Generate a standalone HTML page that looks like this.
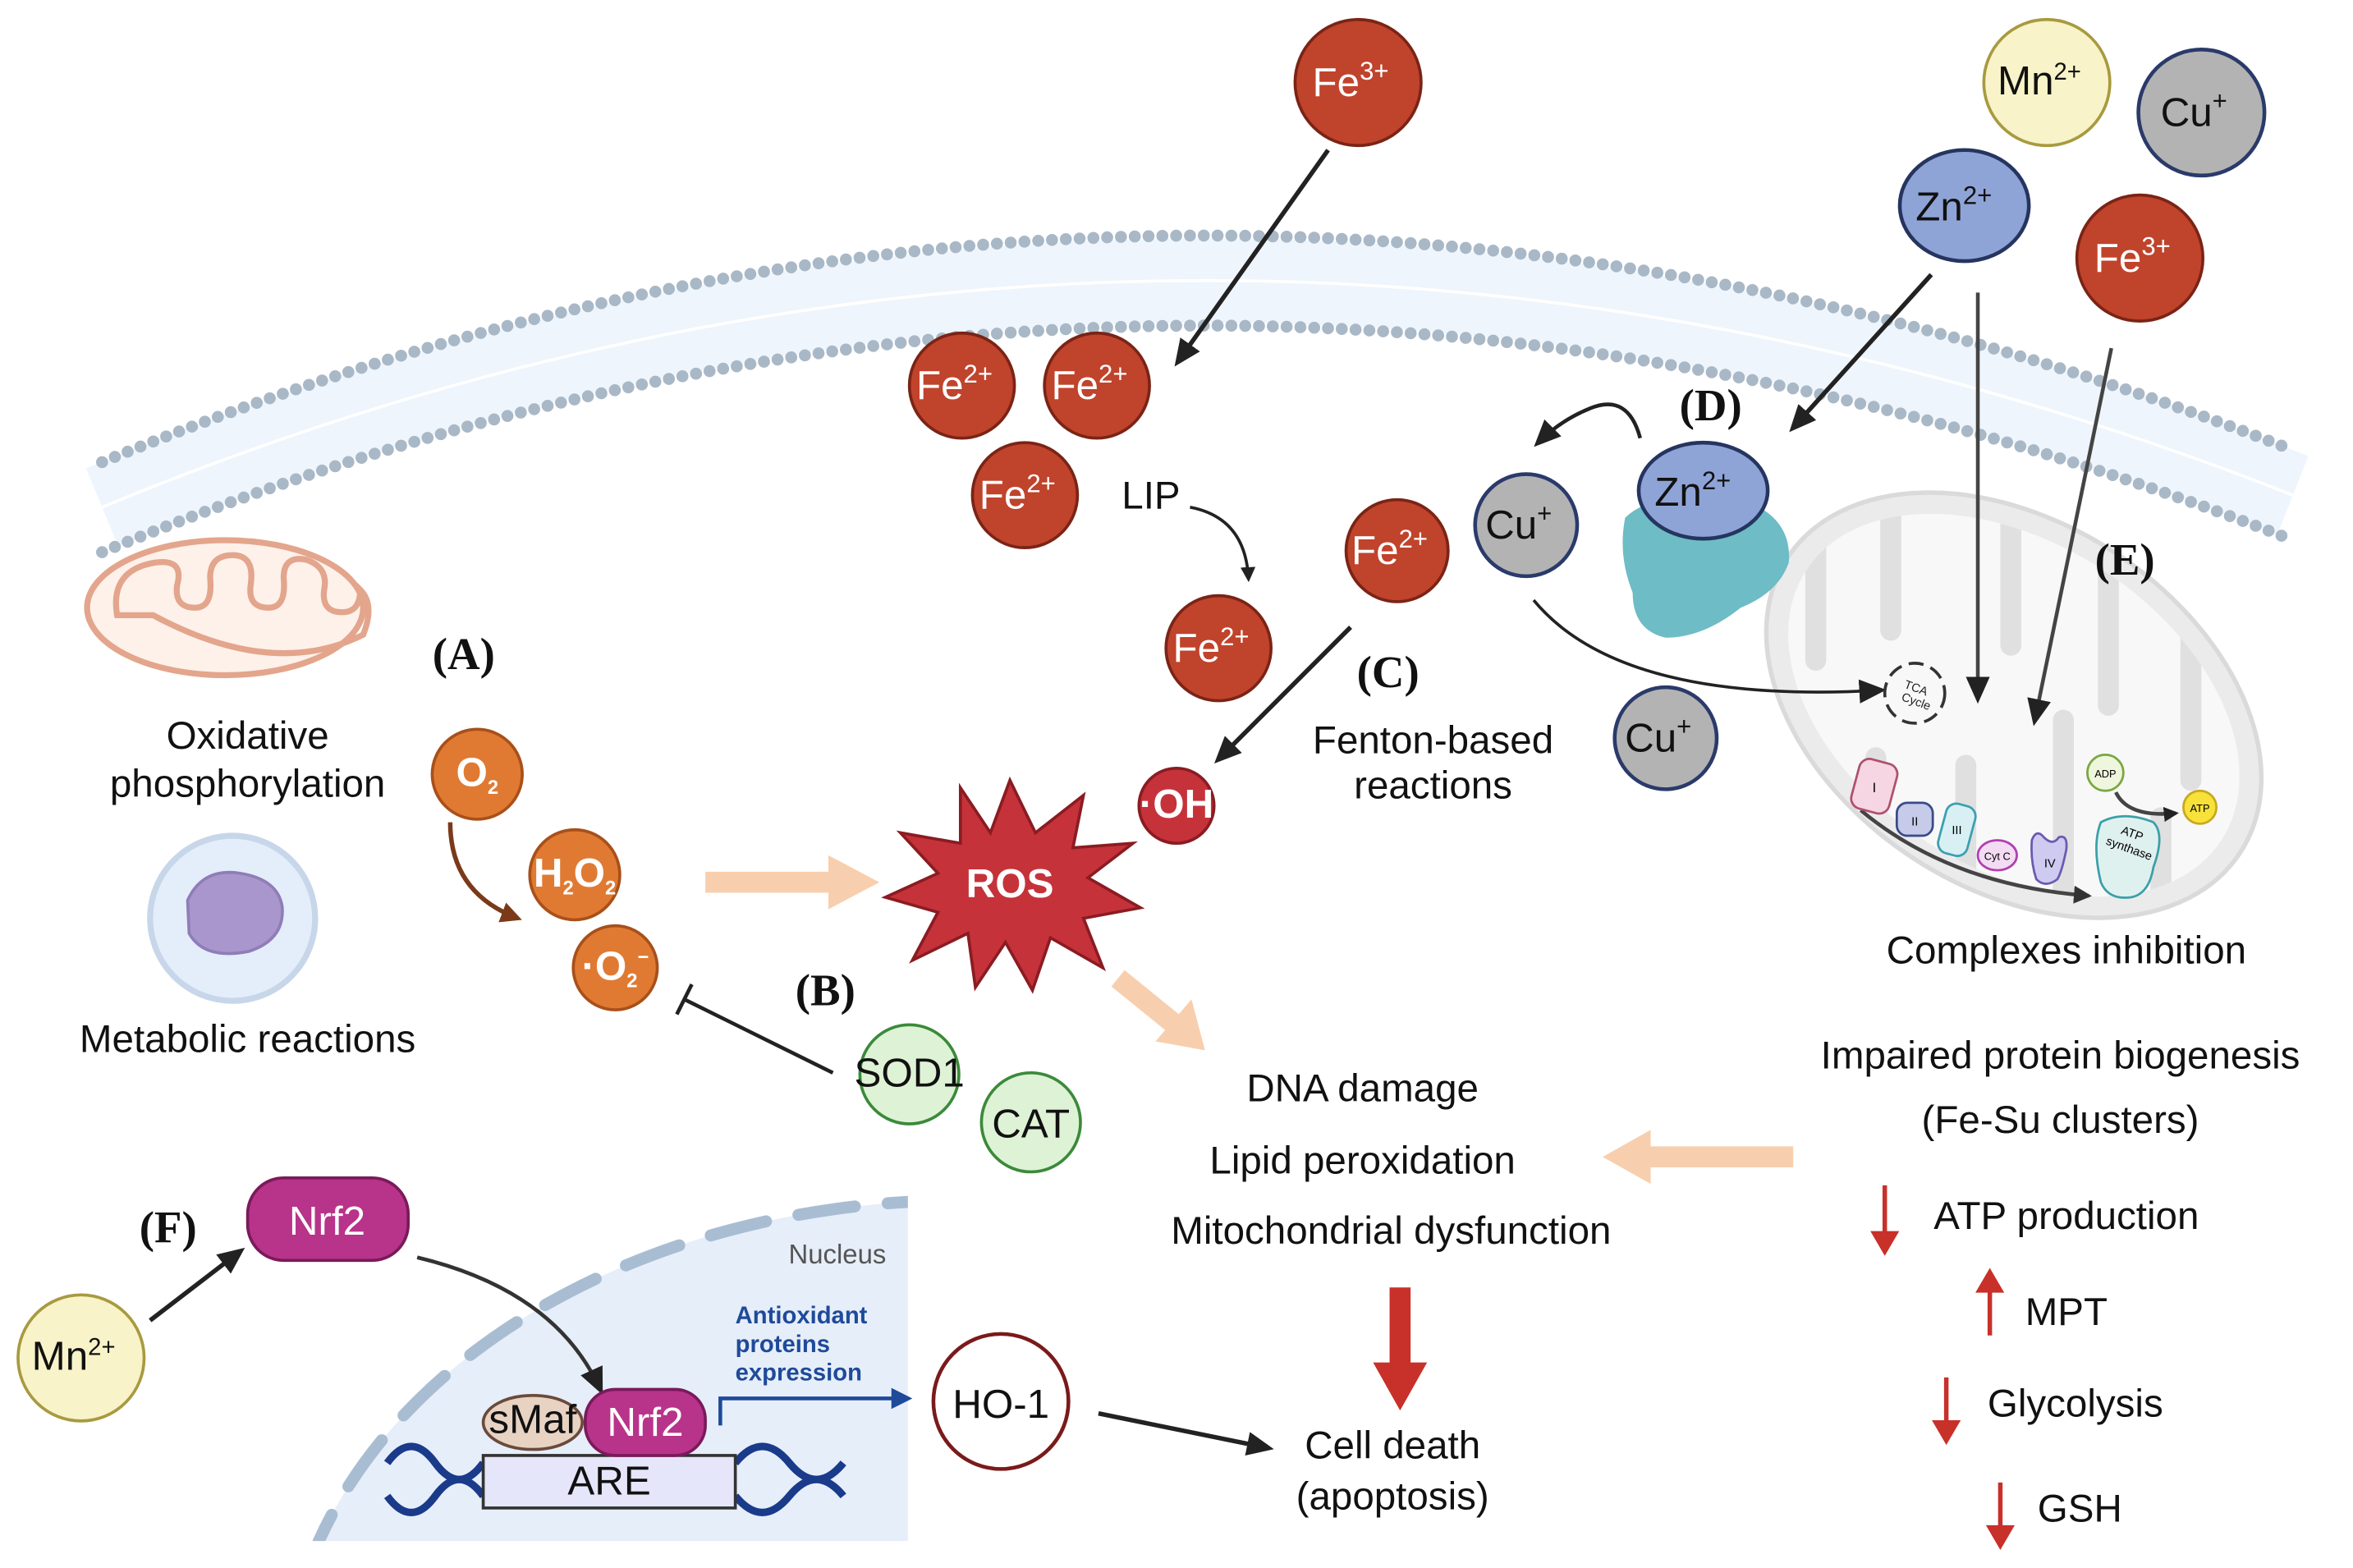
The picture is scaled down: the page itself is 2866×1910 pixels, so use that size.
<!DOCTYPE html>
<html><head><meta charset="utf-8"><style>
html,body{margin:0;padding:0;background:#fff;width:2866px;height:1910px;overflow:hidden}
svg{display:block}
text{font-family:"Liberation Sans",sans-serif}
.ion{font-size:27px;fill:#fff;text-anchor:middle}
.ionk{font-size:27px;fill:#111;text-anchor:middle}
.lab{font-family:"Liberation Serif",serif;font-weight:bold;font-size:30px;fill:#111;text-anchor:middle}
.t{font-size:26px;fill:#111;text-anchor:middle}
</style></head><body>
<svg width="2866" height="1910" viewBox="0 0 1568 1045" xmlns="http://www.w3.org/2000/svg">
<defs>
<marker id="ah" markerWidth="10" markerHeight="10" refX="8" refY="5" orient="auto" markerUnits="userSpaceOnUse" viewBox="0 0 10 10"><path d="M0,0 L10,5 L0,10 z" fill="#222"/></marker>
<marker id="ahb" markerWidth="18" markerHeight="18" refX="14" refY="9" orient="auto" markerUnits="userSpaceOnUse" viewBox="0 0 18 18"><path d="M0,1 L18,9 L0,17 z" fill="#222"/></marker>
<marker id="ahs" markerWidth="12" markerHeight="12" refX="10" refY="6" orient="auto" markerUnits="userSpaceOnUse" viewBox="0 0 12 12"><path d="M0,0 L12,6 L0,12 z" fill="#333"/></marker>
<marker id="ahbr" markerWidth="14" markerHeight="14" refX="11" refY="7" orient="auto" markerUnits="userSpaceOnUse" viewBox="0 0 14 14"><path d="M0,0 L14,7 L0,14 z" fill="#7a3a1a"/></marker>
<marker id="ahblue" markerWidth="14" markerHeight="14" refX="11" refY="7" orient="auto" markerUnits="userSpaceOnUse" viewBox="0 0 14 14"><path d="M0,0 L14,7 L0,14 z" fill="#1f4a9a"/></marker>
<clipPath id="nuc"><rect x="185" y="795" width="420" height="232"/></clipPath>
<clipPath id="mclip"><ellipse cx="1342" cy="470" rx="165" ry="108" transform="rotate(33 1342 470)"/></clipPath>
</defs>

<!-- membrane -->
<path d="M68,338 Q790,40 1528,330" fill="none" stroke="#eef5fc" stroke-width="56"/>
<path d="M68,338 Q790,40 1528,330" fill="none" stroke="#fff" stroke-width="2"/>
<path d="M68,308 Q790,10 1528,300" fill="none" stroke="#a9b8c6" stroke-width="8" stroke-dasharray="0 9.2" stroke-linecap="round"/>
<path d="M68,368 Q790,70 1528,360" fill="none" stroke="#a9b8c6" stroke-width="8" stroke-dasharray="0 9.2" stroke-linecap="round"/>

<!-- left mitochondrion -->
<ellipse cx="150" cy="405" rx="92" ry="45" fill="#fdf1ea" stroke="#e3a58c" stroke-width="4"/>
<path d="M78,410 q-5,-30 25,-35 q20,-3 15,15 q-2,15 12,15 q12,0 10,-20 q0,-15 15,-15 q15,0 12,20 q-2,15 12,15 q12,0 10,-20 q0,-15 15,-12 q15,5 12,20 q-2,15 12,15 q12,0 12,-15 q10,10 2,30 q-60,30 -140,-13 z" fill="none" stroke="#e3a58c" stroke-width="4"/>
<text class="t" x="165" y="499">Oxidative</text>
<text class="t" x="165" y="531">phosphorylation</text>
<circle cx="155" cy="612" r="55" fill="#e4eefb" stroke="#c8d6ea" stroke-width="4"/>
<path d="M125,600 q10,-22 35,-18 q25,4 28,22 q2,22 -22,30 q-30,6 -40,-12 z" fill="#a996cc" stroke="#8f7db8" stroke-width="2"/>
<text class="t" x="165" y="701">Metabolic reactions</text>

<text class="lab" x="309" y="446">(A)</text>
<circle cx="318" cy="516" r="30" fill="#e07a32" stroke="#a8501a" stroke-width="2"/>
<text class="ion" x="318" y="524" font-size="20" font-weight="bold">O<tspan font-size="13" dy="5">2</tspan></text>
<circle cx="383" cy="583" r="30" fill="#e07a32" stroke="#a8501a" stroke-width="2"/>
<text class="ion" x="383" y="591" font-size="20" font-weight="bold">H<tspan font-size="13" dy="5">2</tspan><tspan dy="-5">O</tspan><tspan font-size="13" dy="5">2</tspan></text>
<circle cx="410" cy="645" r="28" fill="#e07a32" stroke="#a8501a" stroke-width="2"/>
<text class="ion" x="410" y="653" font-size="20" font-weight="bold">·O<tspan font-size="13" dy="5">2</tspan><tspan font-size="13" dy="-16">−</tspan></text>
<path d="M300,548 Q300,595 345,612" fill="none" stroke="#7a3a1a" stroke-width="3" marker-end="url(#ahbr)"/>

<text class="lab" x="550" y="670">(B)</text>
<line x1="555" y1="715" x2="456" y2="666" stroke="#222" stroke-width="2.5"/>
<line x1="451" y1="676" x2="461" y2="656" stroke="#222" stroke-width="2.5"/>
<circle cx="606" cy="716" r="33" fill="#def2d6" stroke="#3b8a3a" stroke-width="2"/>
<text class="ionk" x="606" y="724" font-size="20">SOD1</text>
<circle cx="687" cy="748" r="33" fill="#def2d6" stroke="#3b8a3a" stroke-width="2"/>
<text class="ionk" x="687" y="758" font-size="27">CAT</text>

<!-- peach arrows -->
<line x1="470" y1="588" x2="558" y2="588" stroke="#f8cfae" stroke-width="14"/>
<path d="M552,570 L586,588 L552,606 z" fill="#f8cfae"/>
<line x1="745" y1="652" x2="782" y2="682" stroke="#f8cfae" stroke-width="14"/>
<path d="M770,694 L803,700 L794,666 z" fill="#f8cfae"/>
<line x1="1195" y1="771" x2="1095" y2="771" stroke="#f8cfae" stroke-width="14"/>
<path d="M1100,753 L1068,771 L1100,789 z" fill="#f8cfae"/>

<!-- ROS -->
<path d="M673,520 L690,555 L722,530 L715,565 L755,562 L725,585 L760,605 L722,612 L735,645 L700,625 L688,660 L670,628 L650,658 L645,622 L608,640 L625,608 L590,598 L625,582 L600,555 L640,562 L640,525 L660,555 z" fill="#c6323a" stroke="#8a1c22" stroke-width="2"/>
<text class="ion" x="673" y="598" font-weight="bold" font-size="26">ROS</text>

<!-- Fe cluster -->
<circle cx="905" cy="55" r="42" fill="#c0432c" stroke="#7a2416" stroke-width="2"/>
<text class="ion" x="900" y="64">Fe<tspan font-size="17" dy="-11">3+</tspan></text>
<line x1="885" y1="100" x2="785" y2="241" stroke="#222" stroke-width="3" marker-end="url(#ahb)"/>
<circle cx="641" cy="257" r="35" fill="#c0432c" stroke="#7a2416" stroke-width="2"/>
<text class="ion" x="636" y="266">Fe<tspan font-size="17" dy="-11">2+</tspan></text>
<circle cx="731" cy="257" r="35" fill="#c0432c" stroke="#7a2416" stroke-width="2"/>
<text class="ion" x="726" y="266">Fe<tspan font-size="17" dy="-11">2+</tspan></text>
<circle cx="683" cy="330" r="35" fill="#c0432c" stroke="#7a2416" stroke-width="2"/>
<text class="ion" x="678" y="339">Fe<tspan font-size="17" dy="-11">2+</tspan></text>
<text class="t" x="767" y="339">LIP</text>
<path d="M793,338 Q830,345 832,386" fill="none" stroke="#222" stroke-width="2" marker-end="url(#ah)"/>
<circle cx="812" cy="432" r="35" fill="#c0432c" stroke="#7a2416" stroke-width="2"/>
<text class="ion" x="807" y="441">Fe<tspan font-size="17" dy="-11">2+</tspan></text>
<circle cx="931" cy="367" r="34" fill="#c0432c" stroke="#7a2416" stroke-width="2"/>
<text class="ion" x="926" y="376">Fe<tspan font-size="17" dy="-11">2+</tspan></text>

<text class="lab" x="925" y="458">(C)</text>
<text class="t" x="955" y="502" font-size="24">Fenton-based</text>
<text class="t" x="955" y="532" font-size="24">reactions</text>
<line x1="900" y1="418" x2="812" y2="506" stroke="#222" stroke-width="3" marker-end="url(#ahb)"/>
<circle cx="784" cy="537" r="25" fill="#c6323a" stroke="#8a1c22" stroke-width="2"/>
<text class="ion" x="784" y="545" font-size="20" font-weight="bold">·OH</text>

<!-- mitochondrion E -->
<ellipse cx="1342" cy="470" rx="180" ry="122" fill="#ebebeb" stroke="#dadada" stroke-width="3" transform="rotate(33 1342 470)"/>
<ellipse cx="1342" cy="470" rx="165" ry="108" fill="#f8f8f8" transform="rotate(33 1342 470)"/>
<g clip-path="url(#mclip)" stroke="#e0e0e0" stroke-width="14" stroke-linecap="round" fill="none">
<line x1="1210" y1="340" x2="1210" y2="440"/>
<line x1="1260" y1="330" x2="1260" y2="420"/>
<line x1="1340" y1="330" x2="1340" y2="430"/>
<line x1="1405" y1="360" x2="1405" y2="470"/>
<line x1="1460" y1="400" x2="1460" y2="520"/>
<line x1="1250" y1="600" x2="1250" y2="505"/>
<line x1="1310" y1="620" x2="1310" y2="510"/>
<line x1="1375" y1="630" x2="1375" y2="480"/>
<line x1="1440" y1="640" x2="1440" y2="545"/>
</g>

<!-- Cu, Zn D -->
<circle cx="1017" cy="350" r="34" fill="#b3b3b3" stroke="#2a3a6a" stroke-width="2.5"/>
<text class="ionk" x="1012" y="359">Cu<tspan font-size="17" dy="-11">+</tspan></text>
<path d="M1083,345 Q1100,328 1150,330 Q1195,340 1192,375 Q1185,395 1160,405 Q1135,425 1110,425 Q1088,420 1088,395 Q1078,370 1083,345 z" fill="#6dbcc6"/>
<ellipse cx="1135" cy="327" rx="43" ry="32" fill="#8fa4d6" stroke="#25355f" stroke-width="2.5"/>
<text class="ionk" x="1128" y="337">Zn<tspan font-size="17" dy="-11">2+</tspan></text>
<path d="M1093,292 Q1085,262 1060,272 Q1040,280 1025,295" fill="none" stroke="#222" stroke-width="2.5" marker-end="url(#ahb)"/>
<text class="lab" x="1140" y="280">(D)</text>
<path d="M1022,400 Q1080,470 1253,460" fill="none" stroke="#222" stroke-width="2" marker-end="url(#ahb)"/>
<circle cx="1110" cy="492" r="34" fill="#b3b3b3" stroke="#2a3a6a" stroke-width="2.5"/>
<text class="ionk" x="1105" y="501">Cu<tspan font-size="17" dy="-11">+</tspan></text>

<!-- top right ions -->
<circle cx="1364" cy="55" r="42" fill="#f8f3c8" stroke="#a89a40" stroke-width="2"/>
<text class="ionk" x="1359" y="63" font-size="24">Mn<tspan font-size="16" dy="-10">2+</tspan></text>
<circle cx="1467" cy="75" r="42" fill="#b3b3b3" stroke="#2a3a6a" stroke-width="2.5"/>
<text class="ionk" x="1462" y="84">Cu<tspan font-size="17" dy="-11">+</tspan></text>
<ellipse cx="1309" cy="137" rx="43" ry="37" fill="#8fa4d6" stroke="#25355f" stroke-width="2.5"/>
<text class="ionk" x="1302" y="147">Zn<tspan font-size="17" dy="-11">2+</tspan></text>
<circle cx="1426" cy="172" r="42" fill="#c0432c" stroke="#7a2416" stroke-width="2"/>
<text class="ion" x="1421" y="181">Fe<tspan font-size="17" dy="-11">3+</tspan></text>
<line x1="1287" y1="183" x2="1195" y2="285" stroke="#222" stroke-width="3" marker-end="url(#ahb)"/>

<line x1="1318" y1="195" x2="1318" y2="465" stroke="#444" stroke-width="2.5" marker-end="url(#ahb)"/>
<line x1="1407" y1="232" x2="1356" y2="480" stroke="#444" stroke-width="2.5" marker-end="url(#ahb)"/>
<circle cx="1276" cy="462" r="20" fill="#f8f8f8" stroke="#333" stroke-width="2" stroke-dasharray="10 5"/>
<text x="1276" y="461" font-size="8" text-anchor="middle" fill="#222" transform="rotate(20 1276 461)">TCA</text>
<text x="1276" y="470" font-size="8" text-anchor="middle" fill="#222" transform="rotate(20 1276 470)">Cycle</text>
<text class="lab" x="1416" y="383">(E)</text>
<path d="M1240,540 Q1300,590 1392,597" fill="none" stroke="#444" stroke-width="2.5" marker-end="url(#ahs)"/>
<rect x="1236" y="507" width="26" height="34" rx="7" fill="#f6d6e3" stroke="#b0506e" stroke-width="1.5" transform="rotate(15 1249 524)"/>
<text x="1249" y="528" font-size="9" text-anchor="middle">I</text>
<rect x="1264" y="535" width="24" height="22" rx="7" fill="#c5cbe8" stroke="#3a4a8a" stroke-width="1.5"/>
<text x="1276" y="550" font-size="8" text-anchor="middle">II</text>
<rect x="1294" y="536" width="20" height="34" rx="7" fill="#d8f0f4" stroke="#3aa0b0" stroke-width="1.5" transform="rotate(15 1304 553)"/>
<text x="1304" y="556" font-size="8" text-anchor="middle">III</text>
<ellipse cx="1331" cy="570" rx="13" ry="10" fill="#f3dcf3" stroke="#b040b0" stroke-width="1.5"/>
<text x="1331" y="573" font-size="7" text-anchor="middle">Cyt C</text>
<path d="M1354,560 q3,-8 8,-2 q6,6 10,0 q6,-2 5,8 q-3,15 -6,20 q-8,6 -14,0 q-4,-12 -3,-26 z" fill="#cfcaf0" stroke="#6a5ab0" stroke-width="1.5"/>
<text x="1366" y="578" font-size="8" text-anchor="middle">IV</text>
<path d="M1400,548 q15,-8 35,0 q8,8 0,30 q-3,18 -15,20 q-15,2 -20,-10 q-6,-25 0,-40 z" fill="#dff1ef" stroke="#3aa0a8" stroke-width="1.5"/>
<text x="1420" y="558" font-size="8" text-anchor="middle" transform="rotate(20 1420 558)">ATP</text>
<text x="1418" y="568" font-size="8" text-anchor="middle" transform="rotate(20 1418 568)">synthase</text>
<circle cx="1403" cy="515" r="12" fill="#eef6dd" stroke="#7aa840" stroke-width="1.5"/>
<text x="1403" y="518" font-size="7" text-anchor="middle">ADP</text>
<path d="M1410,528 Q1418,545 1450,542" fill="none" stroke="#444" stroke-width="2.5" marker-end="url(#ah)"/>
<circle cx="1466" cy="538" r="11" fill="#f8e23a" stroke="#c8a820" stroke-width="1.5"/>
<text x="1466" y="541" font-size="7" text-anchor="middle">ATP</text>
<text class="t" x="1377" y="642">Complexes inhibition</text>

<!-- center texts -->
<text class="t" x="908" y="734">DNA damage</text>
<text class="t" x="908" y="782">Lipid peroxidation</text>
<text class="t" x="927" y="829">Mitochondrial dysfunction</text>
<line x1="933" y1="858" x2="933" y2="912" stroke="#c8302a" stroke-width="14"/>
<path d="M915,908 L951,908 L933,940 z" fill="#c8302a"/>
<text class="t" x="928" y="972">Cell death</text>
<text class="t" x="928" y="1006">(apoptosis)</text>

<!-- right texts -->
<text class="t" x="1373" y="712">Impaired protein biogenesis</text>
<text class="t" x="1373" y="755">(Fe-Su clusters)</text>
<text class="t" x="1377" y="819">ATP production</text>
<text class="t" x="1377" y="883">MPT</text>
<text class="t" x="1383" y="944">Glycolysis</text>
<text class="t" x="1386" y="1014">GSH</text>
<g stroke="#c8302a" stroke-width="3" fill="#c8302a">
<line x1="1256" y1="790" x2="1256" y2="826"/><path d="M1249,822 L1263,822 L1256,834 z"/>
<line x1="1326" y1="858" x2="1326" y2="890"/><path d="M1319,860 L1333,860 L1326,848 z"/>
<line x1="1297" y1="918" x2="1297" y2="950"/><path d="M1290,948 L1304,948 L1297,960 z"/>
<line x1="1333" y1="988" x2="1333" y2="1020"/><path d="M1326,1018 L1340,1018 L1333,1030 z"/>
</g>

<!-- nucleus -->
<g clip-path="url(#nuc)">
<ellipse cx="640" cy="1130" rx="450" ry="330" fill="#e6eef9"/>
<ellipse cx="640" cy="1130" rx="450" ry="330" fill="none" stroke="#a9bdd2" stroke-width="8" stroke-dasharray="38 22" stroke-linecap="round"/>
</g>
<text x="558" y="842" font-size="18" fill="#555" text-anchor="middle">Nucleus</text>
<text class="lab" x="112" y="828">(F)</text>
<rect x="165" y="785" width="107" height="55" rx="24" fill="#b8338a" stroke="#7a1a5a" stroke-width="2"/>
<text class="ion" x="218" y="823" font-size="30">Nrf2</text>
<circle cx="54" cy="905" r="42" fill="#f8f3c8" stroke="#a89a40" stroke-width="2"/>
<text class="ionk" x="49" y="913" font-size="24">Mn<tspan font-size="16" dy="-10">2+</tspan></text>
<line x1="100" y1="880" x2="160" y2="834" stroke="#222" stroke-width="3" marker-end="url(#ahb)"/>
<path d="M278,838 Q370,860 400,926" fill="none" stroke="#333" stroke-width="2.5" marker-end="url(#ahb)"/>
<path d="M258,975 q16,-22 32,0 q16,22 32,0 M258,997 q16,22 32,0 q16,-22 32,0" fill="none" stroke="#1a3a8a" stroke-width="5"/>
<path d="M490,975 q18,-22 36,0 q18,22 36,0 M490,997 q18,22 36,0 q18,-22 36,0" fill="none" stroke="#1a3a8a" stroke-width="5"/>
<rect x="322" y="970" width="168" height="35" fill="#e6e6fb" stroke="#333" stroke-width="2"/>
<text class="ionk" x="406" y="996" font-size="22">ARE</text>
<ellipse cx="355" cy="948" rx="33" ry="18" fill="#e8d3c3" stroke="#6a4a3a" stroke-width="2"/>
<text class="ionk" x="355" y="955" font-size="18">sMaf</text>
<rect x="390" y="926" width="80" height="44" rx="20" fill="#b8338a" stroke="#7a1a5a" stroke-width="2"/>
<text class="ion" x="430" y="957" font-size="24">Nrf2</text>
<path d="M480,950 L480,932 L605,932" fill="none" stroke="#1f4a9a" stroke-width="2.5" marker-end="url(#ahblue)"/>
<text x="490" y="882" font-size="16" font-weight="bold" fill="#1f4a9a">Antioxidant</text>
<text x="490" y="901" font-size="16" font-weight="bold" fill="#1f4a9a">proteins</text>
<text x="490" y="920" font-size="16" font-weight="bold" fill="#1f4a9a">expression</text>
<circle cx="667" cy="934" r="45" fill="#fff" stroke="#7a1a1a" stroke-width="2.5"/>
<text class="ionk" x="667" y="945" font-size="30">HO-1</text>
<line x1="732" y1="942" x2="845" y2="965" stroke="#222" stroke-width="3" marker-end="url(#ahb)"/>
</svg>
</body></html>
